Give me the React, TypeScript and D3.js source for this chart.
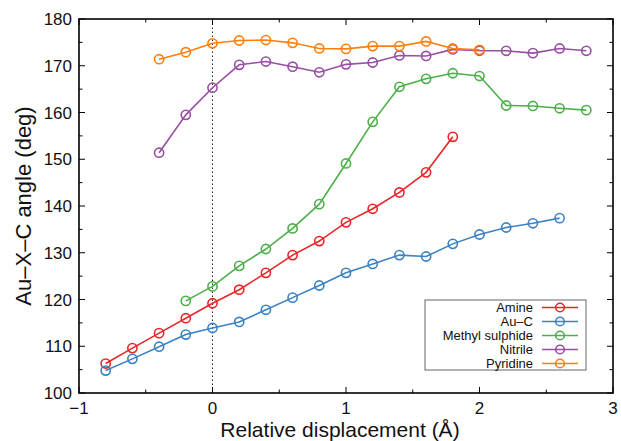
import React from 'react';
import * as d3 from 'd3';

// displacement grid (Å) and angles (deg)
const amineX = [-0.8, -0.6, -0.4, -0.2, 0, 0.2, 0.4, 0.6, 0.8, 1.0, 1.2, 1.4, 1.6, 1.8];
const amineY = [106.3, 109.6, 112.8, 116.0, 119.2, 122.1, 125.7, 129.5, 132.5, 136.5, 139.4, 142.9, 147.2, 154.8];

const aucX = [-0.8, -0.6, -0.4, -0.2, 0, 0.2, 0.4, 0.6, 0.8, 1.0, 1.2, 1.4, 1.6, 1.8, 2.0, 2.2, 2.4, 2.6];
const aucY = [104.8, 107.3, 109.9, 112.5, 113.9, 115.2, 117.8, 120.4, 123.0, 125.7, 127.6, 129.5, 129.2, 131.9, 133.9, 135.4, 136.3, 137.4];

const methylX = [-0.2, 0, 0.2, 0.4, 0.6, 0.8, 1.0, 1.2, 1.4, 1.6, 1.8, 2.0, 2.2, 2.4, 2.6, 2.8];
const methylY = [119.7, 122.8, 127.2, 130.8, 135.2, 140.4, 149.1, 158.0, 165.5, 167.2, 168.4, 167.8, 161.5, 161.4, 160.9, 160.5];

const nitrileX = [-0.4, -0.2, 0, 0.2, 0.4, 0.6, 0.8, 1.0, 1.2, 1.4, 1.6, 1.8, 2.0, 2.2, 2.4, 2.6, 2.8];
const nitrileY = [151.4, 159.5, 165.3, 170.2, 170.9, 169.8, 168.6, 170.3, 170.7, 172.2, 172.1, 173.5, 173.2, 173.2, 172.7, 173.7, 173.2];

const pyridineX = [-0.4, -0.2, 0, 0.2, 0.4, 0.6, 0.8, 1.0, 1.2, 1.4, 1.6, 1.8, 2.0];
const pyridineY = [171.4, 172.9, 174.8, 175.4, 175.5, 174.9, 173.7, 173.6, 174.2, 174.2, 175.2, 173.7, 173.4];

const seriesNames = ['Amine', 'Au\u2013C', 'Methyl sulphide', 'Nitrile', 'Pyridine'];
const seriesColors = ['#e8262a', '#3b82c4', '#4daf4a', '#984ea3', '#ff7f0e'];

const xTicks = [-1, 0, 1, 2, 3];
const yTicks = [100, 110, 120, 130, 140, 150, 160, 170, 180];

const W = 621;
const H = 441;
const margin = { top: 19, right: 8, bottom: 48, left: 79 };
const FONT = '"Liberation Sans", Arial, Helvetica, sans-serif';

export default function App() {
  const x = d3.scaleLinear().domain([-1, 3]).range([margin.left, W - margin.right]);
  const y = d3.scaleLinear().domain([100, 180]).range([H - margin.bottom, margin.top]);

  const series = [
    { xs: amineX, ys: amineY },
    { xs: aucX, ys: aucY },
    { xs: methylX, ys: methylY },
    { xs: nitrileX, ys: nitrileY },
    { xs: pyridineX, ys: pyridineY },
  ].map((s, i) => ({
    name: seriesNames[i],
    color: seriesColors[i],
    points: s.xs.map((v, j) => [v, s.ys[j]] as [number, number]),
  }));

  const line = d3.line<[number, number]>().x(d => x(d[0])).y(d => y(d[1]));

  const x0 = margin.left;
  const x1 = W - margin.right;
  const y0 = H - margin.bottom;
  const y1 = margin.top;

  const xMinor = d3.range(-1, 3.01, 0.5);
  const yMinor = d3.range(100, 180.1, 5);

  // legend layout
  const legX = 425, legY = 300, legW = 161, legH = 70, rowH = 14;

  return (
    <svg width={W} height={H} style={{ position: 'absolute', left: 0, top: 0, background: '#fff' }} fontFamily={FONT}>
      <rect x={0} y={0} width={W} height={H} fill="#fff" />

      {/* dotted line at zero displacement */}
      <line x1={x(0)} x2={x(0)} y1={y0} y2={y1} stroke="#222" strokeWidth={1} strokeDasharray="1.5,2.5" />

      {/* ticks, inward on all four sides */}
      {xMinor.map(v => {
        const major = Math.abs(v - Math.round(v)) < 1e-6;
        const len = major ? 6 : 3.5;
        return (
          <g key={'xt' + v}>
            <line x1={x(v)} x2={x(v)} y1={y0} y2={y0 - len} stroke="#000" strokeWidth={1} />
            <line x1={x(v)} x2={x(v)} y1={y1} y2={y1 + len} stroke="#000" strokeWidth={1} />
          </g>
        );
      })}
      {yMinor.map(v => {
        const major = v % 10 === 0;
        const len = major ? 6 : 3.5;
        return (
          <g key={'yt' + v}>
            <line x1={x0} x2={x0 + len} y1={y(v)} y2={y(v)} stroke="#000" strokeWidth={1} />
            <line x1={x1} x2={x1 - len} y1={y(v)} y2={y(v)} stroke="#000" strokeWidth={1} />
          </g>
        );
      })}

      {/* tick labels */}
      {xTicks.map(v => (
        <text key={'xl' + v} x={x(v)} y={y0 + 21} textAnchor="middle" fontSize={17} fill="#111">
          {v < 0 ? '\u2212' + Math.abs(v) : v}
        </text>
      ))}
      {yTicks.map(v => (
        <text key={'yl' + v} x={x0 - 7} y={y(v) + 6} textAnchor="end" fontSize={17} fill="#111">
          {v}
        </text>
      ))}

      {/* axis titles */}
      <text x={(x0 + x1) / 2 - 6} y={H - 4} textAnchor="middle" fontSize={21} fill="#111">
        Relative displacement (Å)
      </text>
      <text transform={`translate(31,${(y0 + y1) / 2}) rotate(-90)`} textAnchor="middle" fontSize={22} fill="#111">
        Au–X–C angle (deg)
      </text>

      {/* series */}
      {series.map(s => (
        <g key={s.name}>
          <path d={line(s.points) || ''} fill="none" stroke={s.color} strokeWidth={1.6} />
          {s.points.map((p, j) => (
            <circle key={j} cx={x(p[0])} cy={y(p[1])} r={4.6} fill="none" stroke={s.color} strokeWidth={1.6} />
          ))}
        </g>
      ))}

      {/* frame */}
      <rect x={x0} y={y1} width={x1 - x0} height={y0 - y1} fill="none" stroke="#000" strokeWidth={1.6} />

      {/* legend */}
      <rect x={legX} y={legY} width={legW} height={legH} fill="#fff" stroke="#666" strokeWidth={1} />
      {series.map((s, i) => {
        const ry = legY + 7.5 + i * rowH;
        return (
          <g key={'leg' + s.name}>
            <text x={legX + 108} y={ry + 4.5} textAnchor="end" fontSize={13} fill="#111">
              {s.name}
            </text>
            <line x1={legX + 117} x2={legX + 153} y1={ry} y2={ry} stroke={s.color} strokeWidth={1.6} />
            <circle cx={legX + 135} cy={ry} r={4.3} fill="none" stroke={s.color} strokeWidth={1.6} />
          </g>
        );
      })}
    </svg>
  );
}
